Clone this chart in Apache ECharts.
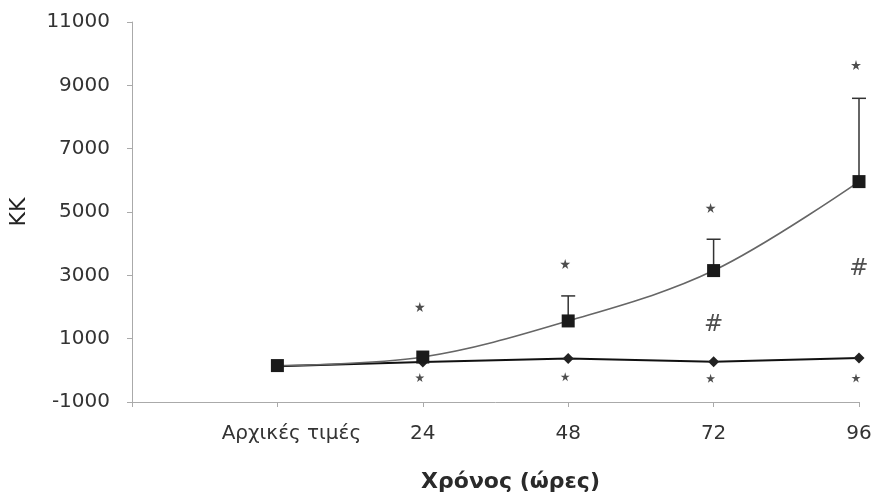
<!DOCTYPE html>
<html>
<head>
<meta charset="utf-8">
<script src="https://cdn.jsdelivr.net/npm/echarts@6/dist/echarts.min.js"></script>
<style>
  html, body { margin: 0; padding: 0; background: #fff; }
  #chart { width: 874px; height: 499px; }
</style>
</head>
<body>
<div id="chart"></div>
<script>
// Time points (first slot is an empty lead-in position on the axis)
const categories = ['', 'Αρχικές τιμές', '24', '48', '72', '96'];
// Group with rising counts (squares), mean and upper error limit
const squareMean = [null, 150, 420, 1560, 3150, 5960];
const squareUpper = [null, null, null, 2350, 4140, 8590];
// Flat group (diamonds)
const diamondMean = [null, 130, 260, 370, 270, 390];
// Significance markers
const starAbove = [null, null, 2000, 3360, 5130, 9640];
const starBelow = [null, null, -230, -200, -250, -240];
const hashMarks = [null, null, null, null, 1430, 3200];
// Y axis range
const yMin = -1000, yMax = 11000, yStep = 2000;

const FONT = 'DejaVu Sans';
const starPath = 'path://M50,0 L61,35 L98,35 L68,57 L79,91 L50,70 L21,91 L32,57 L2,35 L39,35 Z';

function pairs(arr) {
  const out = [];
  arr.forEach((v, i) => { if (v !== null) out.push([i, v]); });
  return out;
}

const errData = [];
squareUpper.forEach((u, i) => { if (u !== null) errData.push([i, squareMean[i], u]); });

const chart = echarts.init(document.getElementById('chart'), null, { renderer: 'canvas' });
chart.setOption({
  animation: false,
  backgroundColor: '#ffffff',
  grid: { left: 132, right: 15, top: 22, bottom: 97, containLabel: false, outerBoundsMode: 'none' },
  xAxis: {
    type: 'category',
    data: categories,
    boundaryGap: false,
    axisLine: { onZero: false, lineStyle: { color: '#aaaaaa', width: 1 } },
    axisTick: { show: true, length: 5, interval: 0, lineStyle: { color: '#aaaaaa' } },
    axisLabel: {
      interval: 0,
      fontFamily: FONT, fontSize: 20, color: '#333', margin: 22,
      formatter: (v) => v === 'Αρχικές τιμές' ? '{p|' + v + '}' : v,
      rich: { p: { fontFamily: FONT, fontSize: 20, color: '#333', padding: [0, 0, 0, 28] } }
    },
    name: 'Χρόνος (ώρες)',
    nameLocation: 'middle',
    nameGap: 69,
    nameTextStyle: { fontFamily: FONT, fontSize: 22, fontWeight: 'bold', color: '#2a2a2a', padding: [0, 0, 0, 30] }
  },
  yAxis: {
    type: 'value',
    min: yMin, max: yMax, interval: yStep,
    axisLine: { show: true, lineStyle: { color: '#aaaaaa', width: 1 } },
    axisTick: { show: true, length: 5, lineStyle: { color: '#aaaaaa' } },
    splitLine: { show: false },
    axisLabel: { fontFamily: FONT, fontSize: 20, color: '#333', margin: 22, formatter: (v) => String(v) },
    name: 'KK',
    nameLocation: 'middle',
    nameGap: 102,
    nameRotate: 90,
    nameTextStyle: { fontFamily: FONT, fontSize: 22, color: '#222' }
  },
  series: [
    {
      name: 'diamond',
      type: 'line',
      data: pairs(diamondMean),
      symbol: 'diamond',
      symbolSize: 11,
      lineStyle: { color: '#111', width: 2 },
      itemStyle: { color: '#222' },
      z: 3
    },
    {
      name: 'errors',
      type: 'custom',
      data: errData,
      renderItem: function (params, api) {
        const x = api.value(0);
        const p0 = api.coord([x, api.value(1)]);
        const p1 = api.coord([x, api.value(2)]);
        const hw = 7;
        return {
          type: 'group',
          children: [
            { type: 'line', shape: { x1: p0[0], y1: p0[1], x2: p1[0], y2: p1[1] }, style: { stroke: '#333', lineWidth: 1.5 } },
            { type: 'line', shape: { x1: p1[0] - hw, y1: p1[1], x2: p1[0] + hw, y2: p1[1] }, style: { stroke: '#333', lineWidth: 1.5 } }
          ]
        };
      },
      z: 4
    },
    {
      name: 'square',
      type: 'line',
      data: pairs(squareMean),
      smooth: 0.35,
      symbol: 'rect',
      symbolSize: 13,
      lineStyle: { color: '#666', width: 1.6 },
      itemStyle: { color: '#1a1a1a' },
      z: 5
    },
    {
      name: 'starsAbove',
      type: 'scatter',
      data: pairs(starAbove),
      symbol: starPath,
      symbolSize: 10,
      symbolOffset: [-3, 0],
      itemStyle: { color: '#222' },
      z: 6
    },
    {
      name: 'starsBelow',
      type: 'scatter',
      data: pairs(starBelow),
      symbol: starPath,
      symbolSize: 9,
      symbolOffset: [-3, 0],
      itemStyle: { color: '#222' },
      z: 6
    },
    {
      name: 'hash',
      type: 'scatter',
      data: pairs(hashMarks),
      symbolSize: 0,
      itemStyle: { color: 'rgba(0,0,0,0)' },
      label: {
        show: true, position: 'inside', formatter: '#',
        fontFamily: FONT, fontSize: 23, color: '#222'
      },
      z: 6
    }
  ]
});
</script>
</body>
</html>
